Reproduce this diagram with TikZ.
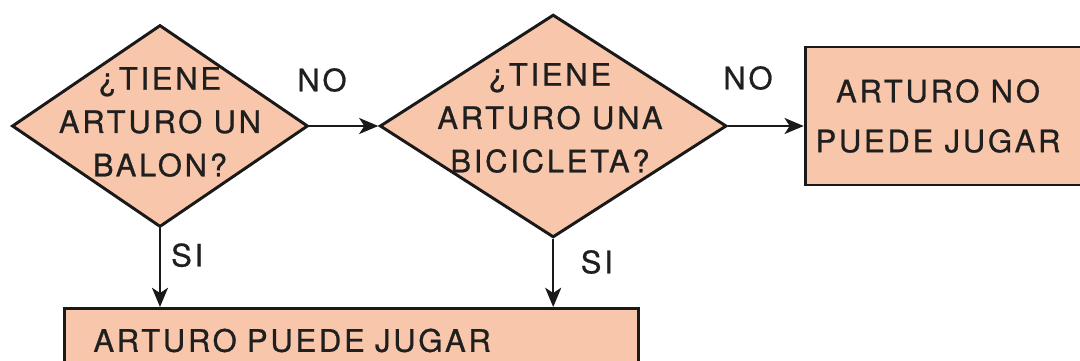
\documentclass[tikz,border=0pt]{standalone}
\usepackage{fontspec}
\setmainfont{TeX Gyre Heros}[LetterSpace=9, FakeBold=0.8]
\usetikzlibrary{arrows.meta,shapes.geometric}
\definecolor{salmon}{RGB}{248,198,170}
\tikzset{
  ask/.style={diamond, draw=black!90, fill=salmon, line width=2.1pt, inner sep=0pt},
  note/.style={align=center, font=\fontsize{22}{30.8}\selectfont, text=black!88},
  card/.style={rectangle, draw=black!90, fill=salmon, line width=2.1pt},
  flow/.style={line width=1.8pt, draw=black!90, -{Stealth[length=0.48cm, width=0.4cm, inset=0.13cm]}}
}
\begin{document}
\begin{tikzpicture}
	%%%%% START %%%%%
	\useasboundingbox (0, 0) rectangle (27, 9);
	\clip (0, 0) rectangle (27, 9);
	
	% questions
	\node[ask, minimum width=7.4cm, minimum height=5.05cm] (q1) at (4.0, 5.85) {};
	\node[note] (q1text) at (4.0, 5.95) {¿TIENE\\ARTURO UN\\BALON?};
	
	\node[ask, minimum width=8.67cm, minimum height=5.57cm] (q2) at (13.83, 5.85) {};
	\node[note] (q2text) at (13.75, 6.05) {¿TIENE\\ARTURO UNA\\BICICLETA?};
	
	% answers
	\node[card, minimum width=7.3cm, minimum height=3.45cm] (nope) at (23.78, 6.1) {};
	\node[note, font=\fontsize{22}{35.5}\selectfont] (nopetext) at (23.45, 6.1) {ARTURO NO\\PUEDE JUGAR};
	
	\node[card, anchor=north west, text width=12.9cm, inner xsep=0.725cm, minimum height=1.6cm,
	      align=left, font=\fontsize{22}{30.8}\selectfont, text=black!88] (yes) at (1.575, 1.325) {ARTURO PUEDE JUGAR};
	
	% connectors
	\draw[flow] (q1.east) -- (q2.west);
	\draw[flow] (q2.east) -- (q2.east -| nope.west);
	\draw[flow] (q1.south) -- (q1.south |- yes.north);
	\draw[flow] (q2.south) -- (q2.south |- yes.north);
	
	% answer labels
	\node[note] (no1) at (8.05, 7.0) {NO};
	\node[note] (no2) at (18.7, 7.05) {NO};
	\node[note] (si1) at (4.68, 2.62) {SI};
	\node[note] (si2) at (14.92, 2.45) {SI};
	
	%%%%% END %%%%%
\end{tikzpicture}
\end{document}
